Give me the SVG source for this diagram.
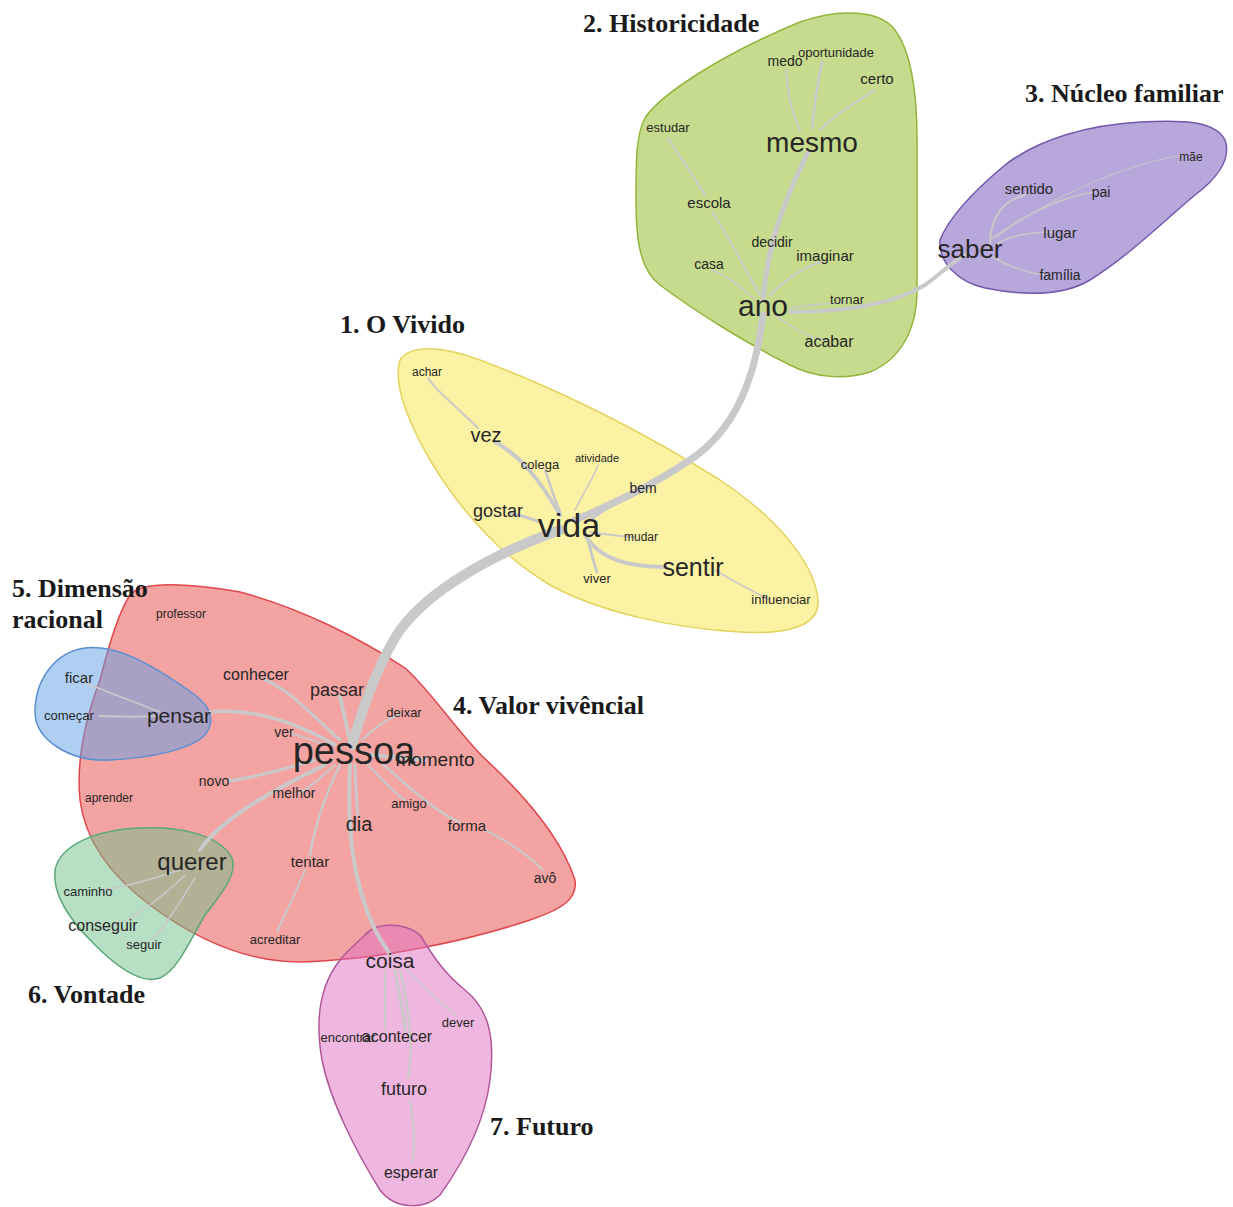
<svg xmlns="http://www.w3.org/2000/svg" width="1233" height="1207" viewBox="0 0 1233 1207">
<style>
.t{font-family:"Liberation Serif","Times New Roman",serif;font-weight:bold;font-size:26px;fill:#1a1a1a}
.w{font-family:"Liberation Sans",Arial,sans-serif;fill:#262626;text-anchor:middle}
.e{fill:none;stroke:#c9c9c9;stroke-linecap:round}
.blob{stroke-width:1.5}
</style>
<rect width="1233" height="1207" fill="#ffffff"/>
<g id="clusters">
<g id="c2-historicidade"><path class="blob" fill="#c6db8d" stroke="#93b43a" d="M645,118 C660,95 720,55 800,22 C840,8 880,10 895,30 C910,50 917,90 917,140 L917,290 C917,330 900,360 870,372 C845,380 815,378 790,365 C750,345 700,315 660,285 C640,270 636,240 636,200 C636,160 636,135 645,118 Z"/></g>
<g id="c3-nucleo"><path class="blob" fill="#b8a7db" stroke="#7458ad" d="M940,240 C950,215 975,190 1005,165 C1040,138 1090,125 1140,122 C1180,120 1215,120 1225,140 C1232,160 1215,180 1195,195 C1165,220 1130,255 1090,280 C1060,298 1020,295 985,288 C958,282 938,262 940,240 Z"/></g>
<g id="c1-vivido"><path class="blob" fill="#fcf2a3" stroke="#e3d35e" d="M400,360 C410,345 440,345 480,360 C560,390 640,430 720,480 C780,520 815,565 818,600 C820,625 790,635 740,632 C670,628 600,612 550,585 C500,555 460,510 430,460 C410,425 392,385 400,360 Z"/></g>
<g id="c4-valor"><path class="blob" fill="#f4a3a3" stroke="#e0474c" d="M130,595 C140,582 180,582 240,592 C300,608 360,638 405,668 C430,690 452,725 482,756 C530,800 562,840 575,880 C578,900 560,910 530,920 C470,940 380,960 300,962 C240,962 190,935 150,905 C110,875 85,840 80,800 C76,760 85,720 100,680 C110,640 120,610 130,595 Z"/></g>
<g id="c5-racional"><path class="blob" fill="#5e9fe6" fill-opacity="0.5" stroke="#5a8fd0" d="M35,712 C35,680 55,652 85,648 C120,644 160,670 195,695 C212,708 215,722 205,735 C190,750 150,758 110,760 C70,762 35,740 35,712 Z"/></g>
<g id="c6-vontade"><path class="blob" fill="#6fbf8a" fill-opacity="0.5" stroke="#5aa878" d="M55,870 C60,845 95,830 140,828 C180,826 220,835 232,858 C238,875 220,895 205,915 C190,940 178,970 160,978 C140,985 115,965 95,945 C70,920 52,895 55,870 Z"/></g>
<g id="c7-futuro"><path class="blob" fill="#e070c0" fill-opacity="0.5" stroke="#b0589a" d="M365,935 C375,922 405,922 420,935 C430,950 440,970 465,990 C490,1010 495,1040 490,1080 C485,1120 465,1160 440,1195 C425,1210 395,1210 380,1190 C355,1150 330,1100 322,1060 C315,1020 320,985 340,960 C350,948 358,942 365,935 Z"/></g>
</g>
<g id="connectors">
<path class="e" stroke-width="5" d="M763,300 C768,240 785,200 808,152"/>
<path class="e" stroke-width="2" d="M800,130 C790,110 788,90 786,70"/>
<path class="e" stroke-width="2.5" d="M812,128 C815,100 818,80 822,62"/>
<path class="e" stroke-width="2" d="M820,130 C840,110 860,100 875,90"/>
<path class="e" stroke-width="2" d="M760,295 C740,260 725,230 712,212 M705,195 C690,170 675,150 668,138"/>
<path class="e" stroke-width="2" d="M770,295 C790,275 810,265 822,262"/>
<path class="e" stroke-width="1.5" d="M755,300 C740,285 725,275 712,270"/>
<path class="e" stroke-width="1.5" d="M790,308 C810,305 830,303 845,302"/>
<path class="e" stroke-width="1.5" d="M775,315 C795,330 810,338 825,340"/>
<path class="e" stroke-width="4" d="M790,312 C860,312 900,300 925,285 C945,270 955,260 965,255"/>
<path class="e" stroke-width="2" d="M990,245 C990,215 1005,200 1025,195"/>
<path class="e" stroke-width="1.5" d="M995,245 C1010,235 1035,232 1055,232"/>
<path class="e" stroke-width="1.5" d="M990,255 C1010,268 1030,273 1045,275"/>
<path class="e" stroke-width="1.5" d="M990,240 C1030,210 1070,195 1095,192"/>
<path class="e" stroke-width="1" d="M995,238 C1060,190 1140,160 1185,155"/>
<path class="e" stroke-width="7" d="M763,315 C755,380 735,430 690,460 C650,487 610,505 575,520"/>
<path class="e" stroke-width="10" d="M560,530 C490,555 430,590 400,630 C380,660 365,700 352,745"/>
<path class="e" stroke-width="4" d="M560,515 C540,480 520,455 495,442"/>
<path class="e" stroke-width="2" d="M478,428 C455,405 435,390 428,378"/>
<path class="e" stroke-width="2.5" d="M560,512 C552,492 548,478 545,470"/>
<path class="e" stroke-width="1.5" d="M575,510 C585,490 595,475 598,465"/>
<path class="e" stroke-width="3" d="M590,520 C610,505 625,498 640,492"/>
<path class="e" stroke-width="3" d="M540,522 C530,518 520,515 510,513"/>
<path class="e" stroke-width="2" d="M590,532 C610,535 625,537 635,537"/>
<path class="e" stroke-width="4" d="M585,535 C600,560 630,567 665,567"/>
<path class="e" stroke-width="3" d="M588,540 C592,555 595,568 597,572"/>
<path class="e" stroke-width="1.5" d="M715,570 C740,585 760,595 770,600"/>
<path class="e" stroke-width="4" d="M350,740 C345,720 342,705 340,697"/>
<path class="e" stroke-width="3" d="M340,740 C312,715 290,690 265,680"/>
<path class="e" stroke-width="3.5" d="M335,745 C292,720 250,708 210,712"/>
<path class="e" stroke-width="1.5" d="M160,712 C130,700 100,690 85,682"/>
<path class="e" stroke-width="2" d="M155,716 C130,718 110,716 100,716"/>
<path class="e" stroke-width="2" d="M325,745 C308,738 297,735 290,733"/>
<path class="e" stroke-width="2" d="M362,740 C377,725 390,718 400,714"/>
<path class="e" stroke-width="4" d="M372,755 C392,757 410,758 425,760"/>
<path class="e" stroke-width="3" d="M315,760 C282,770 250,778 228,781"/>
<path class="e" stroke-width="4" d="M325,765 C272,790 220,820 200,850"/>
<path class="e" stroke-width="1.5" d="M180,870 C150,880 120,888 100,890"/>
<path class="e" stroke-width="1.5" d="M185,875 C160,900 130,920 115,925"/>
<path class="e" stroke-width="1.5" d="M195,878 C175,910 160,935 150,940"/>
<path class="e" stroke-width="2" d="M335,765 C318,780 306,790 300,793"/>
<path class="e" stroke-width="3" d="M355,765 C356,790 357,810 358,815"/>
<path class="e" stroke-width="4" d="M350,765 C347,830 352,880 375,930 C383,945 388,950 390,955"/>
<path class="e" stroke-width="2" d="M368,765 C387,785 400,798 405,800"/>
<path class="e" stroke-width="2.5" d="M378,760 C412,790 440,815 460,822"/>
<path class="e" stroke-width="2" d="M485,830 C515,845 535,862 543,870"/>
<path class="e" stroke-width="2.5" d="M340,765 C322,800 312,840 310,855"/>
<path class="e" stroke-width="2" d="M305,870 C295,895 282,920 277,932"/>
<path class="e" stroke-width="3" d="M395,970 C400,1000 405,1020 405,1030"/>
<path class="e" stroke-width="2.5" d="M400,970 C412,1020 412,1060 408,1078"/>
<path class="e" stroke-width="2" d="M385,970 C385,1000 385,1020 385,1030"/>
<path class="e" stroke-width="1.5" d="M405,968 C425,990 445,1005 455,1015"/>
<path class="e" stroke-width="2" d="M410,1100 C415,1130 415,1150 412,1162"/>
</g>
<g id="titles">
<text class="t" x="583" y="32">2. Historicidade</text>
<text class="t" x="1025" y="102">3. Núcleo familiar</text>
<text class="t" x="340" y="333">1. O Vivido</text>
<text class="t" x="12" y="597">5. Dimensão</text>
<text class="t" x="12" y="628">racional</text>
<text class="t" x="453" y="714">4. Valor vivêncial</text>
<text class="t" x="28" y="1003">6. Vontade</text>
<text class="t" x="490" y="1135">7. Futuro</text>
</g>
<g id="words">
<g id="n-medo"><text class="w" x="785" y="66" font-size="14">medo</text></g>
<g id="n-oportunidade"><text class="w" x="836" y="57" font-size="13">oportunidade</text></g>
<g id="n-certo"><text class="w" x="877" y="84" font-size="15">certo</text></g>
<g id="n-estudar"><text class="w" x="668" y="132" font-size="13">estudar</text></g>
<g id="n-mesmo"><text class="w" x="812" y="152" font-size="28">mesmo</text></g>
<g id="n-escola"><text class="w" x="709" y="208" font-size="15">escola</text></g>
<g id="n-decidir"><text class="w" x="772" y="247" font-size="14">decidir</text></g>
<g id="n-imaginar"><text class="w" x="825" y="261" font-size="15">imaginar</text></g>
<g id="n-casa"><text class="w" x="709" y="269" font-size="14">casa</text></g>
<g id="n-ano"><text class="w" x="763" y="316" font-size="30">ano</text></g>
<g id="n-tornar"><text class="w" x="847" y="304" font-size="13">tornar</text></g>
<g id="n-acabar"><text class="w" x="829" y="347" font-size="16">acabar</text></g>
<g id="n-mae"><text class="w" x="1191" y="161" font-size="12">mãe</text></g>
<g id="n-sentido"><text class="w" x="1029" y="194" font-size="15">sentido</text></g>
<g id="n-pai"><text class="w" x="1101" y="197" font-size="14">pai</text></g>
<g id="n-lugar"><text class="w" x="1060" y="238" font-size="15">lugar</text></g>
<g id="n-saber"><text class="w" x="970" y="258" font-size="26">saber</text></g>
<g id="n-familia"><text class="w" x="1060" y="280" font-size="14">família</text></g>
<g id="n-achar"><text class="w" x="427" y="376" font-size="12">achar</text></g>
<g id="n-vez"><text class="w" x="486" y="442" font-size="20">vez</text></g>
<g id="n-colega"><text class="w" x="540" y="469" font-size="13">colega</text></g>
<g id="n-atividade"><text class="w" x="597" y="462" font-size="11">atividade</text></g>
<g id="n-bem"><text class="w" x="643" y="493" font-size="14">bem</text></g>
<g id="n-gostar"><text class="w" x="498" y="517" font-size="18">gostar</text></g>
<g id="n-vida"><text class="w" x="569" y="537" font-size="34">vida</text></g>
<g id="n-mudar"><text class="w" x="641" y="541" font-size="12">mudar</text></g>
<g id="n-sentir"><text class="w" x="693" y="576" font-size="25">sentir</text></g>
<g id="n-viver"><text class="w" x="597" y="583" font-size="13">viver</text></g>
<g id="n-influenciar"><text class="w" x="781" y="604" font-size="13">influenciar</text></g>
<g id="n-professor"><text class="w" x="181" y="618" font-size="12">professor</text></g>
<g id="n-conhecer"><text class="w" x="256" y="680" font-size="16">conhecer</text></g>
<g id="n-passar"><text class="w" x="337" y="696" font-size="18">passar</text></g>
<g id="n-deixar"><text class="w" x="404" y="717" font-size="13">deixar</text></g>
<g id="n-pensar"><text class="w" x="179" y="723" font-size="21">pensar</text></g>
<g id="n-ver"><text class="w" x="284" y="737" font-size="14">ver</text></g>
<g id="n-momento"><text class="w" x="435" y="766" font-size="19">momento</text></g>
<g id="n-pessoa"><text class="w" x="354" y="764" font-size="38">pessoa</text></g>
<g id="n-novo"><text class="w" x="214" y="786" font-size="14">novo</text></g>
<g id="n-melhor"><text class="w" x="294" y="798" font-size="14">melhor</text></g>
<g id="n-aprender"><text class="w" x="109" y="802" font-size="12">aprender</text></g>
<g id="n-amigo"><text class="w" x="409" y="808" font-size="13">amigo</text></g>
<g id="n-dia"><text class="w" x="359" y="831" font-size="20">dia</text></g>
<g id="n-forma"><text class="w" x="467" y="831" font-size="15">forma</text></g>
<g id="n-querer"><text class="w" x="192" y="870" font-size="24">querer</text></g>
<g id="n-tentar"><text class="w" x="310" y="867" font-size="15">tentar</text></g>
<g id="n-avo"><text class="w" x="545" y="883" font-size="14">avô</text></g>
<g id="n-acreditar"><text class="w" x="275" y="944" font-size="13">acreditar</text></g>
<g id="n-ficar"><text class="w" x="79" y="683" font-size="15">ficar</text></g>
<g id="n-comecar"><text class="w" x="69" y="720" font-size="13">começar</text></g>
<g id="n-caminho"><text class="w" x="88" y="896" font-size="13">caminho</text></g>
<g id="n-conseguir"><text class="w" x="103" y="931" font-size="16">conseguir</text></g>
<g id="n-seguir"><text class="w" x="144" y="949" font-size="13">seguir</text></g>
<g id="n-coisa"><text class="w" x="390" y="968" font-size="21">coisa</text></g>
<g id="n-dever"><text class="w" x="458" y="1027" font-size="13">dever</text></g>
<g id="n-encontrar"><text class="w" x="348" y="1042" font-size="13">encontrar</text></g>
<g id="n-acontecer"><text class="w" x="397" y="1042" font-size="16">acontecer</text></g>
<g id="n-futuro"><text class="w" x="404" y="1095" font-size="18">futuro</text></g>
<g id="n-esperar"><text class="w" x="411" y="1178" font-size="16">esperar</text></g>
</g>
</svg>
